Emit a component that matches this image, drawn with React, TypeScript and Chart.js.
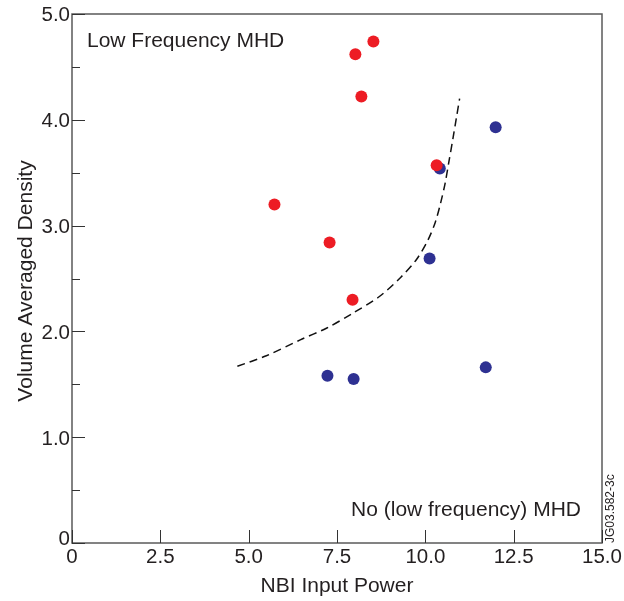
import React, { useEffect, useRef } from 'react';
import { Chart, registerables } from 'chart.js';

Chart.register(...registerables);

// Low frequency MHD (red)
const lowFreqX = [8.53, 8.02, 8.19, 10.32, 5.73, 7.29, 7.94];
const lowFreqY = [4.74, 4.62, 4.22, 3.57, 3.2, 2.84, 2.3];
// No (low frequency) MHD (blue)
const noMhdX = [11.99, 10.41, 10.12, 7.23, 7.97, 11.71];
const noMhdY = [3.93, 3.54, 2.69, 1.58, 1.55, 1.66];
// Dashed boundary
const boundaryX = [4.68, 5.5, 6.46, 7.2, 7.94, 8.7, 9.3, 9.75, 10.07, 10.28, 10.43, 10.56, 10.66, 10.78, 10.88, 10.97];
const boundaryY = [1.67, 1.77, 1.92, 2.03, 2.17, 2.33, 2.51, 2.68, 2.86, 3.03, 3.21, 3.4, 3.59, 3.82, 4.02, 4.2];

const xTickValues = [0, 2.5, 5, 7.5, 10, 12.5, 15];
const xTickLabels = ['0', '2.5', '5.0', '7.5', '10.0', '12.5', '15.0'];
const yTickValues = [0, 1, 2, 3, 4, 5];
const yTickLabels = ['0', '1.0', '2.0', '3.0', '4.0', '5.0'];
const yMinorTickValues = [0.5, 1.5, 2.5, 3.5, 4.5];

const xTitle = 'NBI Input Power';
const yTitle = 'Volume Averaged Density';
const topLabel = 'Low Frequency MHD';
const bottomLabel = 'No (low frequency) MHD';
const figId = 'JG03.582-3c';

const FONT = '"Liberation Sans", Arial, Helvetica, sans-serif';
const TEXT = '#231f20';

const decorPlugin = {
  id: 'decor',
  afterDraw(chart: any) {
    const ctx = chart.ctx;
    const { left, right, top, bottom } = chart.chartArea;
    const xs = chart.scales.x;
    const ys = chart.scales.y;
    ctx.save();
    // frame
    ctx.strokeStyle = '#5a5a5a';
    ctx.lineWidth = 1.5;
    ctx.strokeRect(left, top, right - left, bottom - top);
    // ticks
    ctx.strokeStyle = '#333';
    ctx.lineWidth = 1;
    ctx.beginPath();
    xTickValues.forEach((v) => {
      const px = Math.round(xs.getPixelForValue(v)) + 0.5;
      ctx.moveTo(px, bottom);
      ctx.lineTo(px, bottom - 13);
    });
    yTickValues.forEach((v) => {
      const py = Math.round(ys.getPixelForValue(v)) + 0.5;
      ctx.moveTo(left, py);
      ctx.lineTo(left + 13, py);
    });
    yMinorTickValues.forEach((v) => {
      const py = Math.round(ys.getPixelForValue(v)) + 0.5;
      ctx.moveTo(left, py);
      ctx.lineTo(left + 8, py);
    });
    ctx.stroke();

    ctx.fillStyle = TEXT;
    const tickSize = 20.5;
    ctx.font = `${tickSize}px ${FONT}`;
    ctx.textBaseline = 'alphabetic';
    ctx.textAlign = 'center';
    xTickValues.forEach((v, i) => {
      ctx.fillText(xTickLabels[i], xs.getPixelForValue(v), bottom + 20);
    });
    ctx.textAlign = 'right';
    yTickValues.forEach((v, i) => {
      const py = ys.getPixelForValue(v) + (v === 0 ? -5 : 0);
      ctx.fillText(yTickLabels[i], left - 2, py + tickSize * 0.358);
    });

    ctx.font = `21px ${FONT}`;
    ctx.textAlign = 'center';
    ctx.fillText(xTitle, 337, 592);
    ctx.save();
    ctx.translate(32, 281);
    ctx.rotate(-Math.PI / 2);
    ctx.fillText(yTitle, 0, 0);
    ctx.restore();

    ctx.textAlign = 'left';
    ctx.fillText(topLabel, 87, 47);
    ctx.textAlign = 'right';
    ctx.fillText(bottomLabel, 581, 516);

    ctx.font = `12px ${FONT}`;
    ctx.textAlign = 'left';
    ctx.translate(614, 543);
    ctx.rotate(-Math.PI / 2);
    ctx.fillText(figId, 0, 0);
    ctx.restore();
  },
};

export default function App() {
  const ref = useRef<HTMLCanvasElement | null>(null);
  useEffect(() => {
    if (!ref.current) return;
    const chart = new Chart(ref.current, {
      type: 'scatter',
      data: {
        datasets: [
          {
            label: topLabel,
            data: lowFreqX.map((x, i) => ({ x, y: lowFreqY[i] })),
            backgroundColor: '#ed1c24',
            borderWidth: 0,
            pointRadius: 6,
          },
          {
            label: bottomLabel,
            data: noMhdX.map((x, i) => ({ x, y: noMhdY[i] })),
            backgroundColor: '#2e3192',
            borderWidth: 0,
            pointRadius: 6,
          },
          {
            label: 'boundary',
            data: boundaryX.map((x, i) => ({ x, y: boundaryY[i] })),
            showLine: true,
            pointRadius: 0,
            borderColor: '#111',
            borderWidth: 1.5,
            borderDash: [8, 5],
            tension: 0.3,
            fill: false,
          } as any,
        ],
      },
      options: {
        responsive: false,
        animation: false,
        layout: { padding: { left: 72, right: 22, top: 14, bottom: 58 } },
        plugins: { legend: { display: false }, tooltip: { enabled: false } },
        scales: {
          x: { type: 'linear', min: 0, max: 15, display: false },
          y: { type: 'linear', min: 0, max: 5, display: false },
        },
      },
      plugins: [decorPlugin],
    });
    return () => chart.destroy();
  }, []);
  return (
    <div style={{ position: 'fixed', left: 0, top: 0, width: 624, height: 601, background: '#fff' }}>
      <canvas ref={ref} width={624} height={601} style={{ display: 'block' }} />
    </div>
  );
}
